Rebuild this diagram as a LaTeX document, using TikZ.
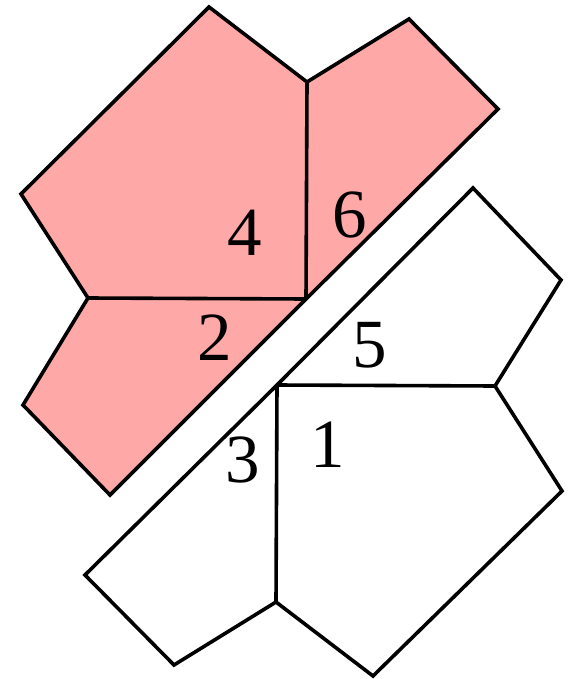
\documentclass[tikz,border=0pt]{standalone}
\usepackage{fontspec}
\setmainfont{Liberation Serif}
\usetikzlibrary{positioning}
\definecolor{cellpink}{RGB}{255,168,168}

\tikzset{
  cell/.style={line width=3.6pt, line join=miter},
  cellnum/.style={font=\fontsize{69}{69}\selectfont, inner sep=0pt}
}

\begin{document}
\begin{tikzpicture}[x=1pt, y=-1pt]
    \useasboundingbox (0,0) rectangle (571,679);
    % Upper half (shaded)
    \coordinate (pa) at (209,7);
    \coordinate (pb) at (307,82);
    \coordinate (pc) at (409,19);
    \coordinate (pd) at (498,109);
    \coordinate (pm) at (306,299);
    \coordinate (pe) at (110,495);
    \coordinate (pf) at (23,405);
    \coordinate (pg) at (88,298);
    \coordinate (ph) at (21,194);
    \fill[cellpink] (pa) -- (pb) -- (pc) -- (pd) -- (pm) -- (pe) -- (pf) -- (pg) -- (ph) -- cycle;
    \draw[cell] (pa) -- (pb) -- (pc) -- (pd) -- (pm) -- (pe) -- (pf) -- (pg) -- (ph) -- cycle;
    \draw[cell] (pb) -- (pm);
    \draw[cell] (pg) -- (pm);
    % Lower half
    \coordinate (wa) at (473,188);
    \coordinate (wb) at (561,280);
    \coordinate (wc) at (495,386);
    \coordinate (wd) at (562,491);
    \coordinate (we) at (373,676);
    \coordinate (wf) at (276,602);
    \coordinate (wg) at (174,665);
    \coordinate (wh) at (85,575);
    \coordinate (wm) at (277,385);
    \draw[cell] (wa) -- (wb) -- (wc) -- (wd) -- (we) -- (wf) -- (wg) -- (wh) -- (wm) -- cycle;
    \draw[cell] (wm) -- (wc);
    \draw[cell] (wm) -- (wf);
    % Cell numbers
    \node[cellnum] (n4) at (245,233) {4};
    \node[cellnum] (n6) at (350,215) {6};
    \node[cellnum] (n2) at (215,338) {2};
    \node[cellnum] (n5) at (370,345) {5};
    \node[cellnum] (n3) at (243,460) {3};
    \node[cellnum] (n1) at (328,445) {1};
\end{tikzpicture}
\end{document}
